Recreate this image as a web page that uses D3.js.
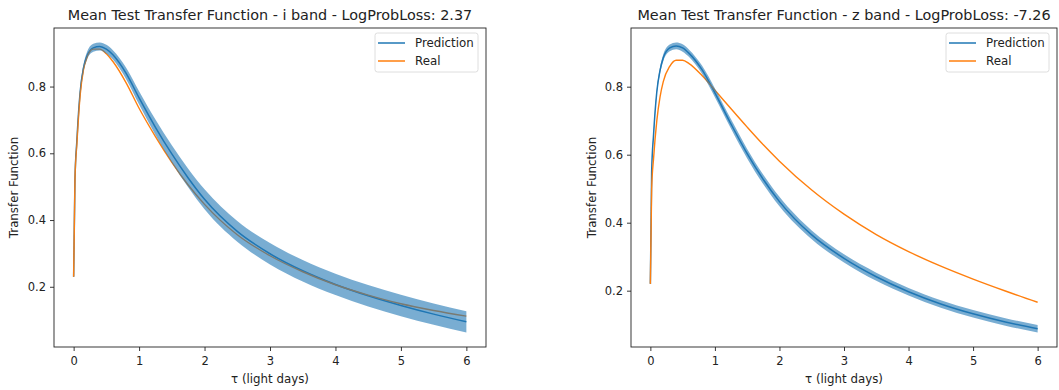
<!DOCTYPE html>
<html>
<head>
<meta charset="utf-8">
<script src="https://cdn.jsdelivr.net/npm/d3@7"></script>
<style>
  body { margin: 0; background: #fff; }
  svg { display: block; }
  text { font-family: "DejaVu Sans", sans-serif; fill: #222; }
</style>
</head>
<body>
<div id="chart"></div>
<script>
// delay grid (light days)
var tau = [0, 0.02, 0.05, 0.1, 0.15, 0.2, 0.3, 0.4, 0.5, 0.6, 0.8, 1.0, 1.25, 1.5, 1.75, 2, 2.5, 3, 3.5, 4, 4.5, 5, 5.5, 6];

// i band
var iPredMean = [0.23, 0.52, 0.64, 0.785, 0.855, 0.89, 0.916, 0.92, 0.912, 0.895, 0.84, 0.766, 0.678, 0.598, 0.526, 0.462, 0.366, 0.299, 0.248, 0.207, 0.173, 0.144, 0.118, 0.095];
var iPredStd  = [0.004, 0.006, 0.008, 0.009, 0.01, 0.011, 0.012, 0.012, 0.013, 0.014, 0.017, 0.02, 0.023, 0.026, 0.028, 0.03, 0.031, 0.032, 0.032, 0.032, 0.032, 0.032, 0.032, 0.032];
var iReal     = [0.23, 0.52, 0.63, 0.775, 0.85, 0.885, 0.912, 0.912, 0.898, 0.875, 0.812, 0.735, 0.65, 0.573, 0.505, 0.447, 0.356, 0.293, 0.245, 0.206, 0.175, 0.149, 0.129, 0.112];

// z band
var zPredMean = [0.22, 0.55, 0.66, 0.785, 0.848, 0.885, 0.914, 0.92, 0.914, 0.898, 0.85, 0.782, 0.69, 0.603, 0.527, 0.462, 0.364, 0.295, 0.241, 0.197, 0.161, 0.132, 0.108, 0.088];
var zPredStd  = [0.004, 0.006, 0.007, 0.008, 0.009, 0.01, 0.01, 0.01, 0.011, 0.011, 0.012, 0.013, 0.014, 0.014, 0.014, 0.014, 0.013, 0.012, 0.012, 0.011, 0.011, 0.011, 0.011, 0.011];
var zReal     = [0.22, 0.50, 0.59, 0.70, 0.77, 0.815, 0.86, 0.878, 0.878, 0.868, 0.833, 0.79, 0.735, 0.681, 0.629, 0.581, 0.496, 0.425, 0.365, 0.315, 0.272, 0.234, 0.199, 0.166];

var xTicks = [0, 1, 2, 3, 4, 5, 6];
var yTicks = [0.2, 0.4, 0.6, 0.8];
var titles = ["Mean Test Transfer Function - i band - LogProbLoss: 2.37",
              "Mean Test Transfer Function - z band - LogProbLoss: -7.26"];
var seriesNames = ["Prediction", "Real"];

var W = 1059, H = 390;
var blue = "#1f77b4", orange = "#ff7f0e";

var svg = d3.select("#chart").append("svg")
    .attr("width", W)
    .attr("height", H);

drawPanel({left: 54, right: 486, top: 28, bottom: 347, ylabX: 14},
          titles[0], iPredMean, iPredStd, iReal);
drawPanel({left: 631, right: 1057, top: 28, bottom: 347, ylabX: 592},
          titles[1], zPredMean, zPredStd, zReal);

function drawPanel(box, title, mean, std, real) {
    var g = svg.append("g");

    // matplotlib style 5% margins
    var xr = d3.extent(tau);
    var xpad = (xr[1] - xr[0]) * 0.05;
    var lows = mean.map(function(m, i) { return m - std[i]; });
    var highs = mean.map(function(m, i) { return m + std[i]; });
    var ymin = d3.min(lows.concat(real)), ymax = d3.max(highs.concat(real));
    var ypad = (ymax - ymin) * 0.05;

    var x = d3.scaleLinear().domain([xr[0] - xpad, xr[1] + xpad]).range([box.left, box.right]);
    var y = d3.scaleLinear().domain([ymin - ypad, ymax + ypad]).range([box.bottom, box.top]);

    var clipId = "clip" + box.left;
    g.append("clipPath").attr("id", clipId)
        .append("rect")
        .attr("x", box.left).attr("y", box.top)
        .attr("width", box.right - box.left).attr("height", box.bottom - box.top);

    var plot = g.append("g").attr("clip-path", "url(#" + clipId + ")");

    var line = d3.line()
        .x(function(d) { return x(d[0]); })
        .y(function(d) { return y(d[1]); })
        .curve(d3.curveMonotoneX);

    plot.append("path")
        .attr("d", line(tau.map(function(t, i) { return [t, mean[i]]; })))
        .attr("fill", "none")
        .attr("stroke", blue)
        .attr("stroke-width", 1.5);

    plot.append("path")
        .attr("d", line(tau.map(function(t, i) { return [t, real[i]]; })))
        .attr("fill", "none")
        .attr("stroke", orange)
        .attr("stroke-width", 1.4);

    var band = d3.area()
        .x(function(d) { return x(d.t); })
        .y0(function(d) { return y(d.lo); })
        .y1(function(d) { return y(d.hi); })
        .curve(d3.curveMonotoneX);

    plot.append("path")
        .attr("d", band(tau.map(function(t, i) { return {t: t, lo: lows[i], hi: highs[i]}; })))
        .attr("fill", blue)
        .attr("fill-opacity", 0.6)
        .attr("stroke", "none");

    // axes
    var xAxis = d3.axisBottom(x).tickValues(xTicks).tickSize(4).tickPadding(6)
        .tickFormat(d3.format("d"));
    var yAxis = d3.axisLeft(y).tickValues(yTicks).tickSize(4).tickPadding(4)
        .tickFormat(d3.format(".1f"));

    var gx = g.append("g").attr("transform", "translate(0," + box.bottom + ")").call(xAxis);
    var gy = g.append("g").attr("transform", "translate(" + box.left + ",0)").call(yAxis);
    [gx, gy].forEach(function(a) {
        a.select(".domain").remove();
        a.selectAll(".tick line").attr("stroke", "#222").attr("stroke-width", 0.9);
        a.selectAll(".tick text")
            .attr("fill", "#222")
            .style("font-size", "11.5px")
            .style("font-family", "'DejaVu Sans', sans-serif");
    });

    g.append("rect")
        .attr("x", box.left).attr("y", box.top)
        .attr("width", box.right - box.left).attr("height", box.bottom - box.top)
        .attr("fill", "none")
        .attr("stroke", "#222")
        .attr("stroke-width", 0.9);

    // titles & labels
    var cx = (box.left + box.right) / 2;
    g.append("text")
        .attr("x", cx).attr("y", 20)
        .attr("text-anchor", "middle")
        .style("font-size", "14.4px")
        .text(title);

    g.append("text")
        .attr("x", cx).attr("y", 383)
        .attr("text-anchor", "middle")
        .style("font-size", "11.8px")
        .text("τ (light days)");

    g.append("text")
        .attr("transform", "translate(" + (box.ylabX + 4) + "," + ((box.top + box.bottom) / 2) + ") rotate(-90)")
        .attr("text-anchor", "middle")
        .style("font-size", "11.8px")
        .text("Transfer Function");

    // legend
    var lw = 103, lh = 39;
    var lx = box.right - 8 - lw, ly = box.top + 5;
    var leg = g.append("g").attr("transform", "translate(" + lx + "," + ly + ")");
    leg.append("rect")
        .attr("width", lw).attr("height", lh)
        .attr("rx", 2.5)
        .attr("fill", "#fff").attr("fill-opacity", 0.8)
        .attr("stroke", "#d6d6d6").attr("stroke-width", 0.8);

    [blue, orange].forEach(function(c, i) {
        var yy = 10 + i * 18;
        leg.append("line")
            .attr("x1", 3).attr("x2", 30)
            .attr("y1", yy).attr("y2", yy)
            .attr("stroke", c).attr("stroke-width", 1.5);
        leg.append("text")
            .attr("x", 40).attr("y", yy + 4.2)
            .style("font-size", "11.8px")
            .text(seriesNames[i]);
    });
}
</script>
</body>
</html>
